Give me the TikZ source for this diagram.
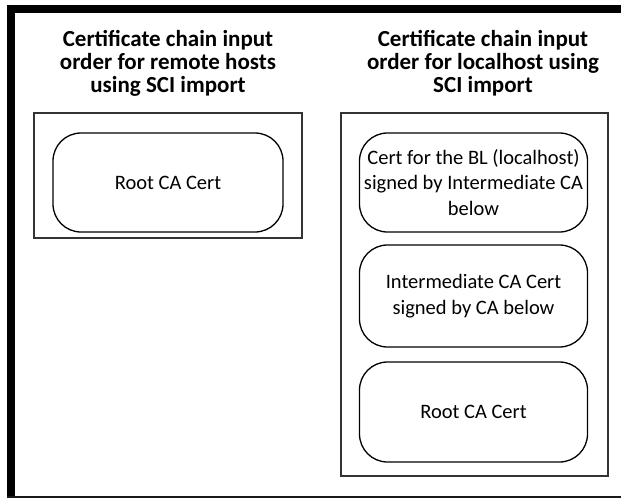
\documentclass[tikz,border=0pt]{standalone}
\usepackage{fontspec}
\setmainfont{Carlito}
\begin{document}
\begin{tikzpicture}[x=1pt,y=1pt,
  titletext/.style={align=center, font=\bfseries\fontsize{23}{23}\selectfont, inner sep=0pt},
  panel/.style={draw=black!80, line width=1.3pt},
  certbox/.style={draw=black, line width=1.3pt, rounded corners=28pt, align=center,
    font=\fontsize{20.5}{25.5}\selectfont, inner sep=0pt, minimum width=228pt, minimum height=99pt}
]
\useasboundingbox (0,0) rectangle (621,-498);
% outer frame (cropped on the right)
\fill[black] (7,-5) rectangle (621,-13);
\fill[black] (7,-5) rectangle (15,-497);
\fill[black!90] (7,-495.5) rectangle (621,-498);
% left panel
\node[titletext] (tl) at (168,-63) {Certificate chain input\\order for remote hosts\\using SCI import};
\node[panel, minimum width=268pt, minimum height=125pt, inner sep=0pt] (pl) at (168,-175.5) {};
\node[certbox, minimum width=230pt] (rootl) at (168,-182.5) {Root CA Cert};
% right panel
\node[titletext] (tr) at (483,-63) {Certificate chain input\\order for localhost using\\SCI import};
\node[panel, minimum width=267pt, minimum height=363pt, inner sep=0pt] (pr) at (474.5,-294.5) {};
\node[certbox] (bl) at (473.5,-182.5) {Cert for the BL (localhost)\\signed by Intermediate CA\\below};
\node[certbox, minimum height=102pt] (inter) at (473.5,-296) {Intermediate CA Cert\\signed by CA below};
\node[certbox, minimum height=100pt] (rootr) at (473.5,-412) {Root CA Cert};
\end{tikzpicture}
\end{document}
